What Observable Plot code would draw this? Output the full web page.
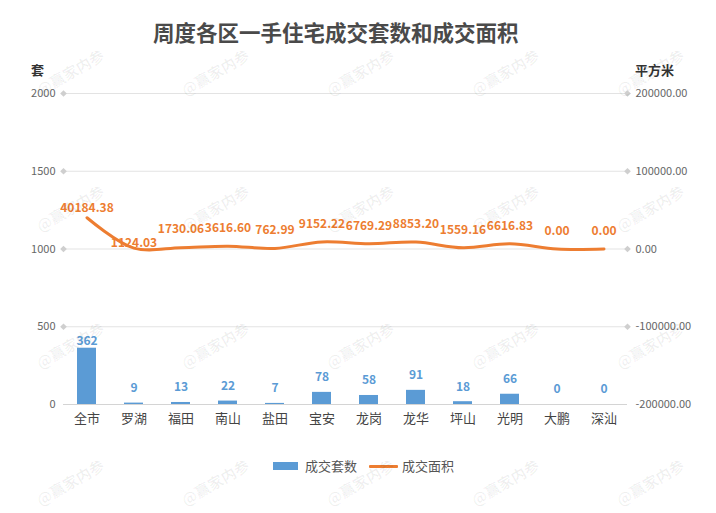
<!DOCTYPE html>
<html><head><meta charset="utf-8">
<script src="https://cdn.jsdelivr.net/npm/d3@7"></script>
<script src="https://cdn.jsdelivr.net/npm/@observablehq/plot@0.6"></script>
<style>
body{margin:0;background:#fff;font-family:"Noto Sans CJK SC","Noto Sans",sans-serif;}
#wrap{position:relative;width:716px;height:513px;overflow:hidden;background:#fff;}
#title{position:absolute;left:153px;top:16px;font-size:21.5px;font-weight:bold;color:#4a4a4a;white-space:nowrap;}
.axt{position:absolute;top:60px;font-size:13px;font-weight:bold;color:#333;white-space:nowrap;}
#chart{position:absolute;left:0;top:48px;}
.lg{position:absolute;font-size:13px;color:#555;white-space:nowrap;top:456px;line-height:20px;}
.wm{position:absolute;font-size:15px;color:rgba(0,0,0,0.06);transform:translate(-50%,-50%) rotate(-30deg);white-space:nowrap;pointer-events:none;font-weight:bold;}
</style></head><body>
<div id="wrap">
<div id="title">周度各区一手住宅成交套数和成交面积</div>
<div class="axt" style="left:31px;">套</div>
<div class="axt" style="left:635px;">平方米</div>
<div id="chart"></div>
<div style="position:absolute;left:273px;top:462px;width:25px;height:8px;background:#5b9bd5;"></div>
<div class="lg" style="left:305px;">成交套数</div>
<div style="position:absolute;left:369px;top:465px;width:29px;height:3px;background:#ed7d31;border-radius:1px;"></div>
<div class="lg" style="left:402px;">成交面积</div>
</div>
<script>
const districts = ["全市","罗湖","福田","南山","盐田","宝安","龙岗","龙华","坪山","光明","大鹏","深汕"];
const units = [362, 9, 13, 22, 7, 78, 58, 91, 18, 66, 0, 0];
const areas = [40184.38, 1124.03, 1730.06, 3616.60, 762.99, 9152.22, 6769.29, 8853.20, 1559.16, 6616.83, 0.00, 0.00];
const leftTicks = [0, 500, 1000, 1500, 2000];
const rightMin = -200000, rightMax = 200000;
const watermarkText = "@赢家内参";
const wmX = [70, 215, 360, 505, 650];
const wmY = [72, 208, 345, 482];

const toLeft = v => (v - rightMin) / (rightMax - rightMin) * 2000;
const toRight = v => rightMin + v / 2000 * (rightMax - rightMin);

const rows = districts.map((d, i) => ({d, i, u: units[i], a: areas[i], ay: toLeft(areas[i])}));
const font = '"Noto Sans CJK SC","Noto Sans",sans-serif';

const chart = Plot.plot({
  width: 716, height: 392,
  marginTop: 45, marginBottom: 36, marginLeft: 63, marginRight: 89,
  style: {fontFamily: font, background: "transparent", overflow: "visible"},
  x: {domain: districts, paddingInner: 0.6, paddingOuter: 0.3, label: null},
  y: {domain: [0, 2000], label: null},
  marks: [
    Plot.ruleY(leftTicks.slice(1), {stroke: "#e3e3e3", strokeWidth: 1}),
    Plot.ruleY([0], {stroke: "#d4d4d4", strokeWidth: 1}),
    Plot.dot(leftTicks.slice(1), {y: d => d, frameAnchor: "left", symbol: "diamond2", r: 3, fill: "#cfcfcf", stroke: "none"}),
    Plot.dot(leftTicks.slice(1), {y: d => d, frameAnchor: "right", symbol: "diamond2", r: 3, fill: "#cfcfcf", stroke: "none"}),
    Plot.barY(rows, {x: "d", y: "u", fill: "#5b9bd5"}),
    Plot.line(rows, {x: "d", y: "ay", stroke: "#ed7d31", strokeWidth: 3, curve: "catmull-rom"}),
    Plot.text(rows.filter(r => r.i === 0), {x: "d", y: "u", text: r => String(r.u), dy: -7, fill: "#5b9bd5", fontWeight: "bold", fontSize: 12}),
    Plot.text(rows.filter(r => r.i > 0), {x: "d", y: "u", text: r => String(r.u), dy: -15, fill: "#5b9bd5", fontWeight: "bold", fontSize: 12}),
    Plot.text(rows.filter(r => r.i === 0), {x: "d", y: "ay", text: r => r.a.toFixed(2), dy: -10, fill: "#ed7d31", fontWeight: "bold", fontSize: 12}),
    Plot.text(rows.filter(r => r.i === 1), {x: "d", y: "ay", text: r => r.a.toFixed(2), dy: -5, fill: "#ed7d31", fontWeight: "bold", fontSize: 12}),
    Plot.text(rows.filter(r => r.i > 1), {x: "d", y: "ay", text: r => r.a.toFixed(2), dy: -18, fill: "#ed7d31", fontWeight: "bold", fontSize: 12}),
    Plot.axisX({tickSize: 0, tickPadding: 9, fontSize: 13, fill: "#444", label: null}),
    Plot.axisY({ticks: leftTicks, anchor: "left", tickSize: 0, tickPadding: 8, fontSize: 11, fill: "#666", label: null,
      tickFormat: v => String(v)}),
    Plot.axisY({ticks: leftTicks, anchor: "right", tickSize: 0, tickPadding: 8, fontSize: 11, fill: "#666", label: null,
      tickFormat: v => toRight(v).toFixed(2)})
  ]
});
document.getElementById("chart").appendChild(chart);

const wrap = document.getElementById("wrap");
for (const y of wmY) for (const x of wmX) {
  const el = document.createElement("div");
  el.className = "wm";
  el.style.left = x + "px";
  el.style.top = y + "px";
  el.textContent = watermarkText;
  wrap.appendChild(el);
}
</script>
</body></html>
